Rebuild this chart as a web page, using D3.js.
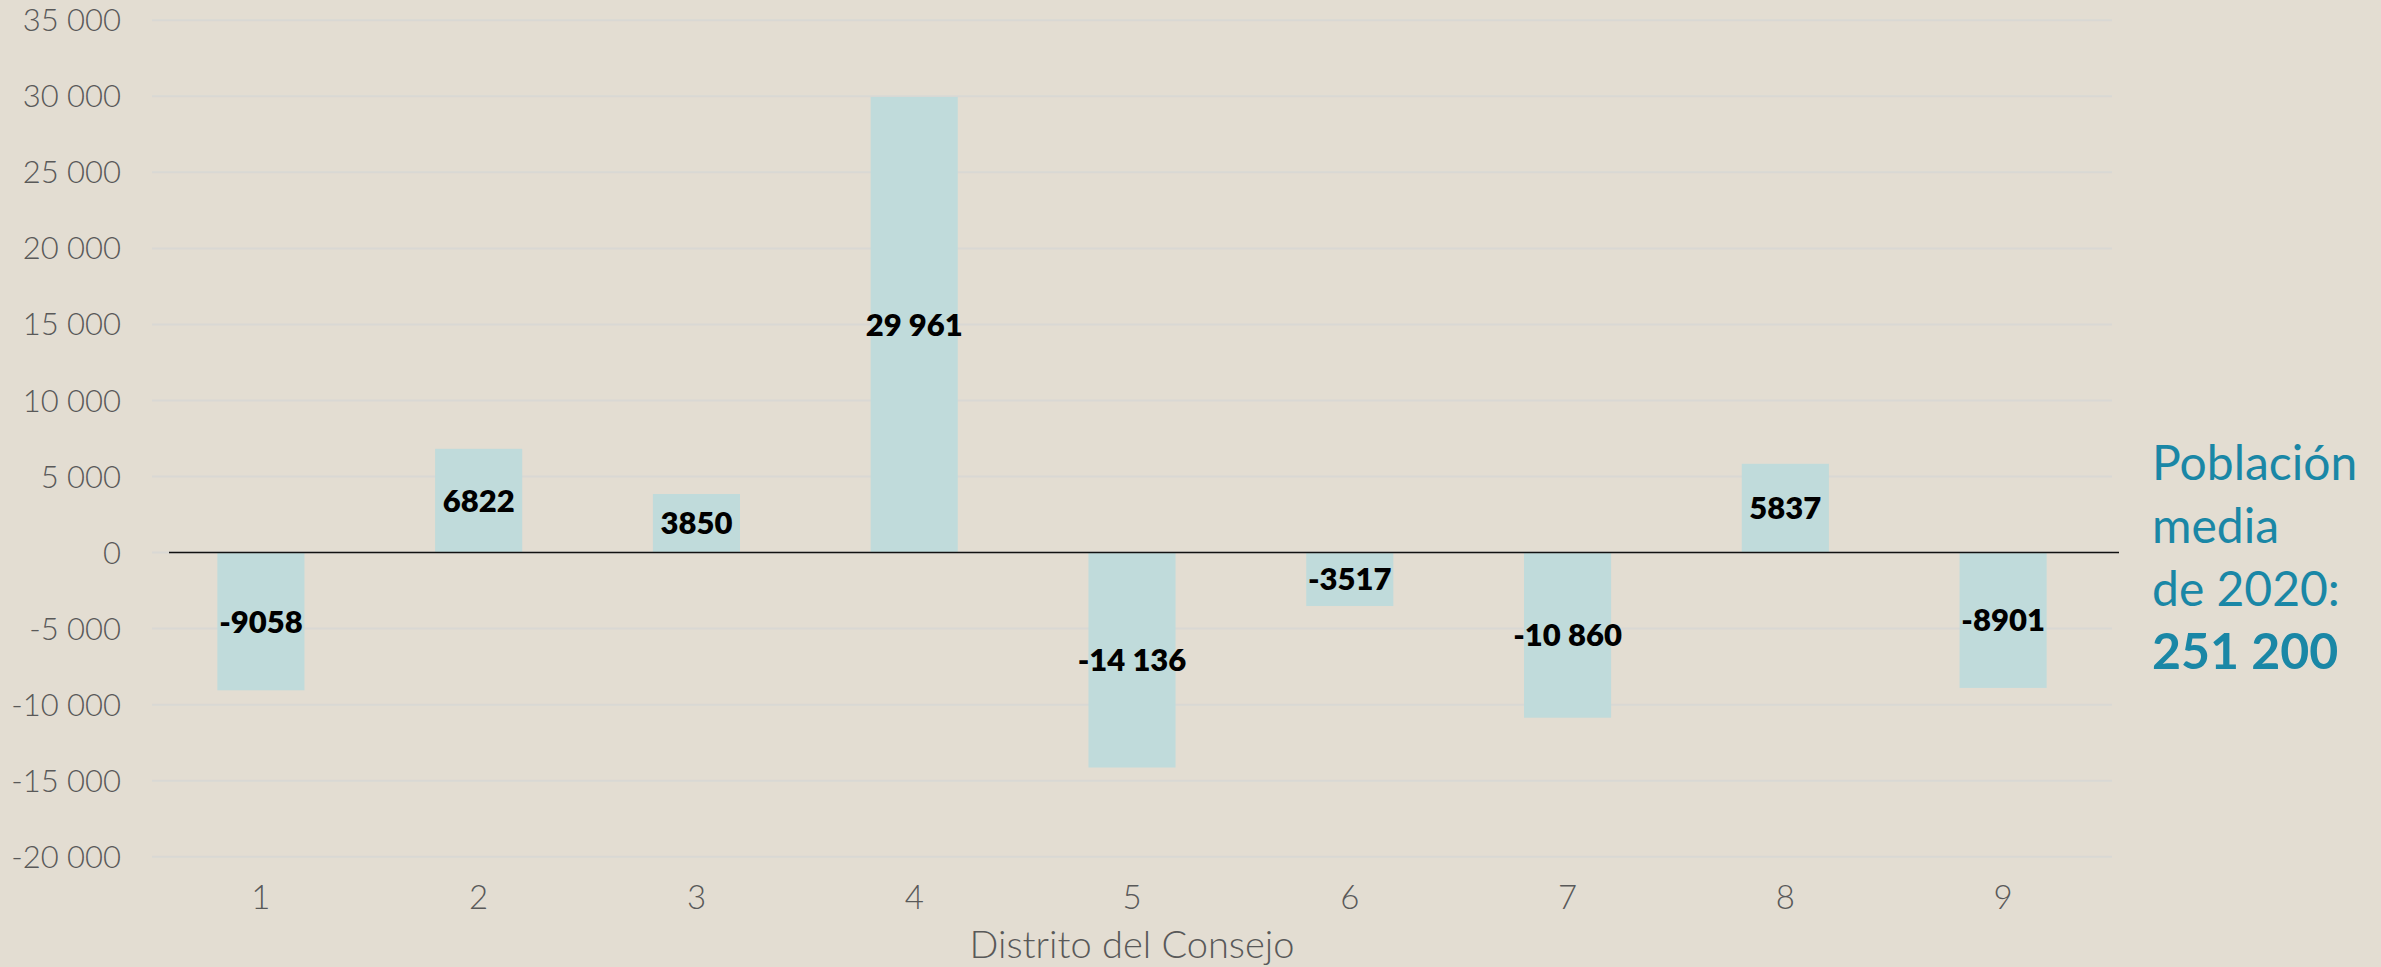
<!DOCTYPE html>
<html>
<head>
<meta charset="utf-8">
<script src="https://cdn.jsdelivr.net/npm/d3@7"></script>
<style>
  html, body { margin: 0; padding: 0; background: #e3ddd2; }
  svg { display: block; }
</style>
</head>
<body>
<div id="chart"></div>
<script>
// Chart values
const districts = ["1", "2", "3", "4", "5", "6", "7", "8", "9"];
const changes = [-9058, 6822, 3850, 29961, -14136, -3517, -10860, 5837, -8901];
const yTicks = [35000, 30000, 25000, 20000, 15000, 10000, 5000, 0, -5000, -10000, -15000, -20000];
const noteLines = ["Población", "media", "de 2020:"];
const noteValue = "251 200";
const xTitle = "Distrito del Consejo";

const width = 2381;
const height = 967;

const svg = d3.select("#chart")
  .append("svg")
  .attr("width", width)
  .attr("height", height);

svg.append("rect")
  .attr("width", width)
  .attr("height", height)
  .attr("fill", "#e3ddd2");

// scales
const x = d3.scaleBand()
  .domain(districts)
  .range([152, 2112])
  .paddingInner(0.6)
  .paddingOuter(0.3);

const y = d3.scaleLinear()
  .domain([-20000, 35000])
  .range([856.7, 20.3]);

// space-grouped numbers, e.g. "35 000"
const groupSpace = v => {
  const s = d3.format(",")(Math.abs(v)).replace(/,/g, " ");
  return (v < 0 ? "-" : "") + s;
};
// labels: 4 digits are not grouped
const labelFmt = v => Math.abs(v) >= 10000 ? groupSpace(v) : String(v);

// gridlines
svg.append("g")
  .selectAll("line")
  .data(yTicks)
  .join("line")
  .attr("x1", 152)
  .attr("x2", 2112)
  .attr("y1", d => y(d))
  .attr("y2", d => y(d))
  .attr("stroke", "#d9d8d4")
  .attr("stroke-width", 2);

// y axis labels
const yAxis = svg.append("g")
  .attr("transform", "translate(121,0)")
  .call(d3.axisLeft(y).tickValues(yTicks).tickFormat(groupSpace).tickSize(0).tickPadding(0));
yAxis.select(".domain").remove();
yAxis.selectAll("text")
  .attr("dy", "0.34em")
  .attr("font-family", "Lato, 'DejaVu Sans', sans-serif")
  .attr("font-weight", 300)
  .attr("font-size", 31)
  .attr("fill", "#595959");

// bars
svg.append("g")
  .selectAll("rect")
  .data(changes)
  .join("rect")
  .attr("x", (d, i) => x(districts[i]))
  .attr("width", x.bandwidth())
  .attr("y", d => y(Math.max(0, d)))
  .attr("height", d => Math.abs(y(d) - y(0)))
  .attr("fill", "#c0dbdb");

// zero line
svg.append("line")
  .attr("x1", 169)
  .attr("x2", 2119)
  .attr("y1", y(0))
  .attr("y2", y(0))
  .attr("stroke", "#111")
  .attr("stroke-width", 1.6);

// value labels
svg.append("g")
  .selectAll("text")
  .data(changes)
  .join("text")
  .attr("x", (d, i) => x(districts[i]) + x.bandwidth() / 2)
  .attr("y", d => (y(d) + y(0)) / 2)
  .attr("dy", "0.36em")
  .attr("text-anchor", "middle")
  .attr("font-family", "Lato, 'DejaVu Sans', sans-serif")
  .attr("font-weight", 800)
  .attr("font-size", 31)
  .attr("fill", "#000")
  .text(d => labelFmt(d));

// x axis labels
const xAxis = svg.append("g")
  .attr("transform", "translate(0,897)")
  .call(d3.axisBottom(x).tickSize(0).tickPadding(0));
xAxis.select(".domain").remove();
xAxis.selectAll("text")
  .attr("dy", "0.36em")
  .attr("font-family", "Lato, 'DejaVu Sans', sans-serif")
  .attr("font-weight", 300)
  .attr("font-size", 33)
  .attr("fill", "#595959");

// x axis title
svg.append("text")
  .attr("x", (152 + 2112) / 2)
  .attr("y", 958)
  .attr("text-anchor", "middle")
  .attr("font-family", "Lato, 'DejaVu Sans', sans-serif")
  .attr("font-weight", 300)
  .attr("font-size", 38)
  .attr("fill", "#595959")
  .text(xTitle);

// side note
const note = svg.append("text")
  .attr("x", 2152)
  .attr("font-family", "Lato, 'Open Sans', sans-serif")
  .attr("font-size", 48)
  .attr("fill", "#1a87a6");
noteLines.forEach((t, i) => {
  note.append("tspan")
    .attr("x", 2152)
    .attr("y", 480 + i * 63)
    .text(t);
});
note.append("tspan")
  .attr("x", 2152)
  .attr("y", 480 + 3 * 63)
  .attr("font-weight", 700)
  .attr("font-size", 50)
  .text(noteValue);
</script>
</body>
</html>
